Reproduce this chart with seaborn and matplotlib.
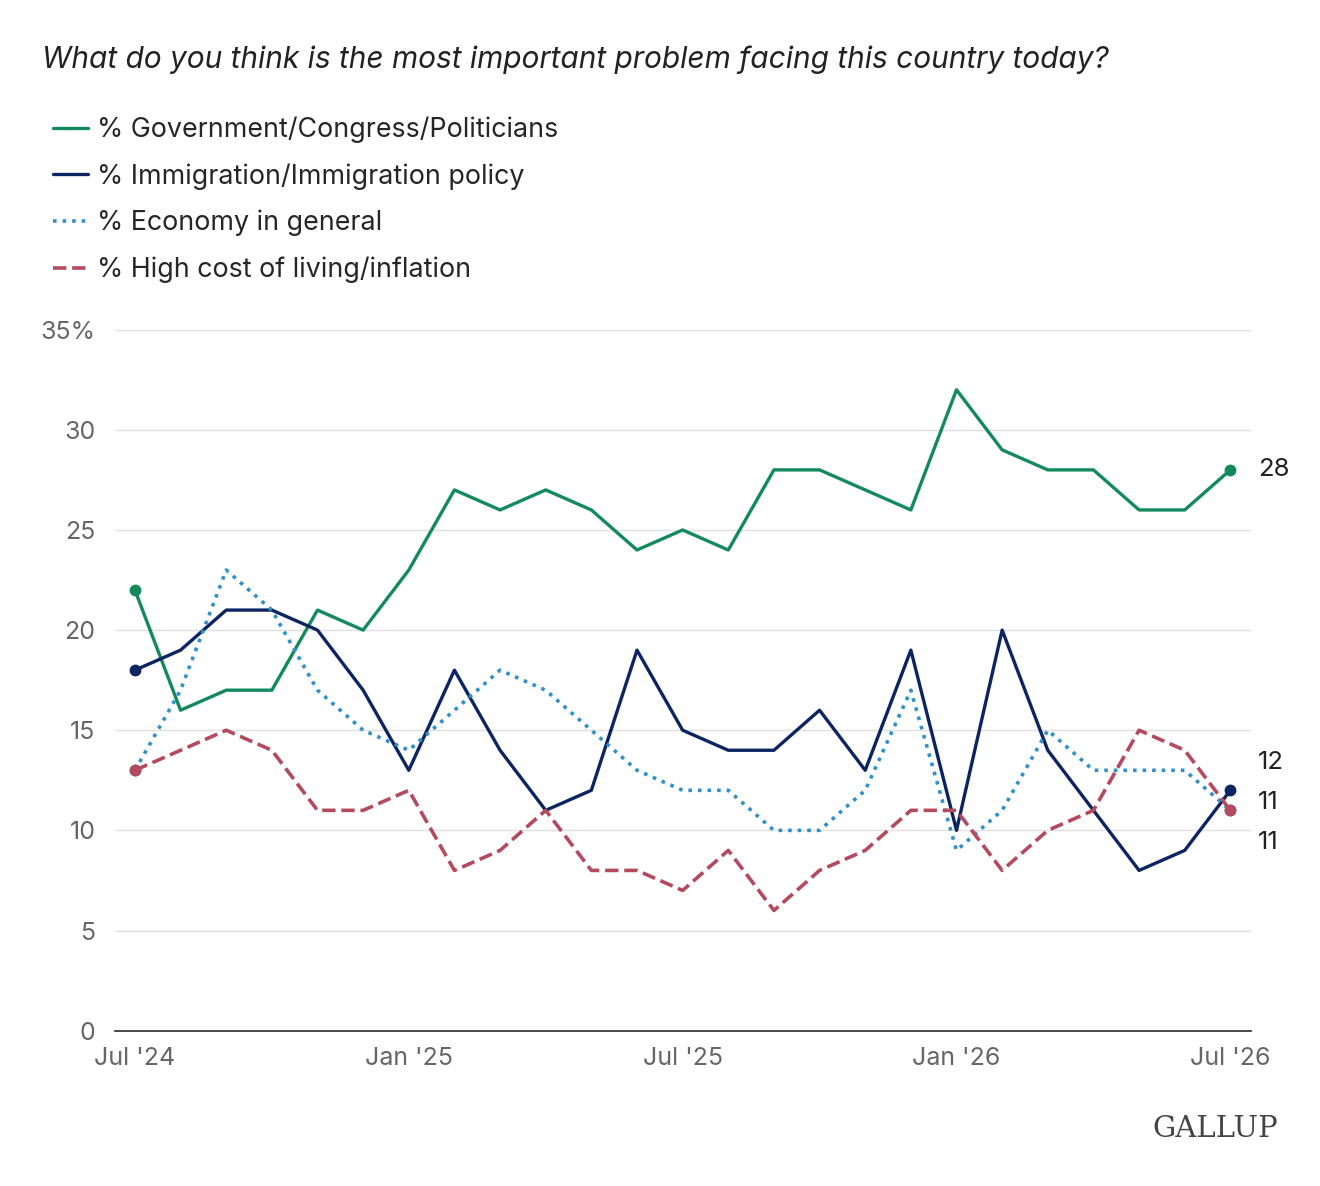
import matplotlib
matplotlib.use("Agg")
import matplotlib.pyplot as plt
import seaborn as sns
import pandas as pd

months = ["Jul '24","Aug '24","Sep '24","Oct '24","Nov '24","Dec '24","Jan '25","Feb '25","Mar '25",
          "Apr '25","May '25","Jun '25","Jul '25","Aug '25","Sep '25","Oct '25","Nov '25","Dec '25",
          "Jan '26","Feb '26","Mar '26","Apr '26","May '26","Jun '26","Jul '26"]
government = [22,16,17,17,21,20,23,27,26,27,26,24,25,24,28,28,27,26,32,29,28,28,26,26,28]
immigration = [18,19,21,21,20,17,13,18,14,11,12,19,15,14,14,16,13,19,10,20,14,11,8,9,12]
economy = [13,17,23,21,17,15,14,16,18,17,15,13,12,12,10,10,12,17,9,11,15,13,13,13,11]
cost_living = [13,14,15,14,11,11,12,8,9,11,8,8,7,9,6,8,9,11,11,8,10,11,15,14,11]
tick_labels = ["Jul '24","Jan '25","Jul '25","Jan '26","Jul '26"]

series = [
    ("% Government/Congress/Politicians", government, "#138a5c", "-"),
    ("% Immigration/Immigration policy", immigration, "#0c2461", "-"),
    ("% Economy in general", economy, "#3090c8", ":"),
    ("% High cost of living/inflation", cost_living, "#b44a5e", "--"),
]

sns.set_theme(style="white")
plt.rcParams['font.family'] = ['Inter', 'DejaVu Sans']

fig = plt.figure(figsize=(13.2, 11.86), dpi=100)
ax = fig.add_axes([0.087, 0.131, 0.861, 0.591])
x = list(range(len(months)))
for name, vals, col, ls in series:
    df = pd.DataFrame({"x": x, "y": vals})
    sns.lineplot(data=df, x="x", y="y", ax=ax, color=col, linestyle=ls, linewidth=2.6 if ls != "-" else 2.4, label=name)
    ax.plot([x[0], x[-1]], [vals[0], vals[-1]], "o", color=col, markersize=7.5, zorder=5)

ax.set_xlim(-0.44, 24.46)
ax.set_ylim(0, 35)
ax.set_yticks([0,5,10,15,20,25,30,35])
ax.set_yticklabels(["0","5","10","15","20","25","30","35%"])
ax.set_xticks([months.index(t) for t in tick_labels])
ax.set_xticklabels(tick_labels)
ax.tick_params(axis='both', labelsize=18, colors="#666666", length=0, pad=12)
ax.tick_params(axis='y', pad=14)
ax.grid(axis='y', color="#e0e0e0", linewidth=1)
for s in ["top", "right", "left"]:
    ax.spines[s].set_visible(False)
ax.spines["bottom"].set_color("#333333")
ax.set_xlabel("")
ax.set_ylabel("")

for lab, yv in [("28", 28), ("12", 13.4), ("11", 11.4), ("11", 9.4)]:
    ax.text(24.6, yv, lab, fontsize=18.5, color="#222222", va="center", ha="left", clip_on=False)

handles, labels = ax.get_legend_handles_labels()
ax.get_legend().remove()
fig.legend(handles, labels, loc="upper left", bbox_to_anchor=(0.022, 0.922), frameon=False,
           fontsize=19.3, handlelength=1.3, labelspacing=0.75, handletextpad=0.35)

fig.text(0.032, 0.95, "What do you think is the most important problem facing this country today?",
         fontsize=21.5, style="italic", color="#222222", va="center")
fig.text(0.968, 0.048, "GALLUP", fontsize=21, family="DejaVu Serif", color="#444444", ha="right", va="center")

fig.savefig("out.png", dpi=100)
